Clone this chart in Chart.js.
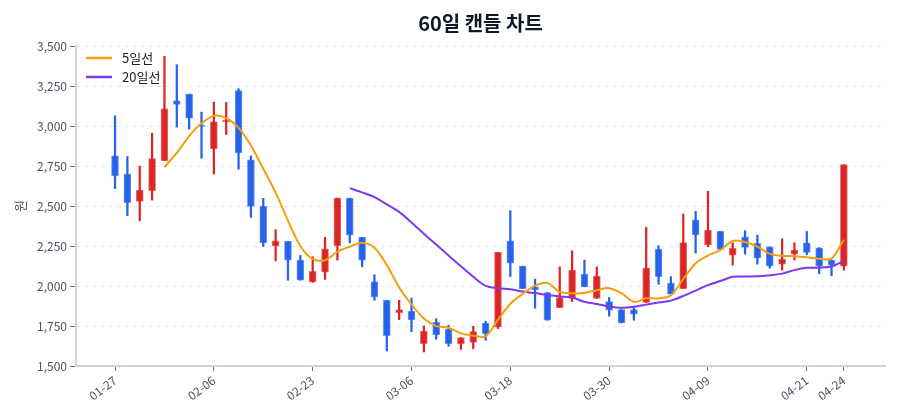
<!DOCTYPE html>
<html>
<head>
<meta charset="utf-8">
<script src="https://cdn.jsdelivr.net/npm/chart.js@4.4.1/dist/chart.umd.min.js"></script>
<style>
  html, body { margin: 0; padding: 0; background: #ffffff; }
  #wrap { width: 900px; height: 420px; position: relative; }
</style>
</head>
<body>
<div id="wrap"><canvas id="c" width="900" height="420"></canvas></div>
<script>
// ---- data ----
const chartTitle = '60일 캔들 차트';
const dates = ["01-27","01-28","01-29","01-30","01-31","02-03","02-04","02-05","02-06","02-09",
  "02-10","02-12","02-13","02-16","02-17","02-20","02-23","02-24","02-25","02-26",
  "02-27","03-02","03-03","03-05","03-06","03-09","03-10","03-11","03-12","03-13",
  "03-16","03-17","03-18","03-19","03-20","03-23","03-24","03-25","03-26","03-27",
  "03-30","03-31","04-01","04-02","04-03","04-06","04-07","04-08","04-09","04-10",
  "04-13","04-14","04-15","04-16","04-17","04-20","04-21","04-22","04-23","04-24"];
const opens  = [2813,2700,2529,2596,2784,3158,3199,3005,2857,3025,3222,2788,2498,2251,2279,2162,2026,2087,2252,2550,
                2304,2028,1911,1834,1842,1640,1773,1730,1640,1648,1769,1744,2283,2124,1995,1959,1865,1922,2074,1922,
                1903,1853,1853,1897,2231,2018,1984,2414,2256,2341,2193,2308,2266,2245,2137,2199,2270,2239,2162,2124];
const highs  = [3064,2809,2750,2955,3435,3383,3199,3087,3149,3147,3233,2813,2548,2352,2279,2191,2183,2304,2550,2550,
                2304,2070,1911,1911,1924,1750,1796,1755,1677,1748,1780,2210,2471,2124,2043,1959,2120,2220,2162,2120,
                1928,1853,1865,2366,2252,2059,2450,2467,2592,2341,2270,2346,2318,2245,2295,2270,2341,2239,2162,2759];
const lows   = [2609,2439,2408,2537,2784,2993,2980,2798,2700,2947,2730,2429,2247,2157,2036,2036,2022,2041,2162,2270,
                2120,1911,1594,1790,1715,1588,1667,1623,1604,1608,1661,1734,2059,1984,1861,1786,1865,1903,1995,1922,
                1811,1769,1786,1897,2011,1949,1984,2206,2245,2229,2130,2199,2137,2112,2099,2162,2195,2078,2064,2099];
const closes = [2688,2521,2600,2796,3107,3135,3049,2998,3028,3035,2832,2498,2270,2283,2162,2036,2091,2233,2550,2318,
                2162,1932,1690,1853,1790,1719,1694,1640,1677,1715,1702,2210,2143,1984,1975,1786,1928,2099,1995,2062,
                1849,1769,1824,2112,2059,1949,2272,2320,2350,2229,2237,2241,2174,2124,2168,2224,2210,2124,2130,2759];
const tickIndices = [0, 8, 16, 24, 32, 40, 48, 56, 59];
const yTicks = [1500, 1750, 2000, 2250, 2500, 2750, 3000, 3250, 3500];

// ---- derived tables for the library ----
const UP = '#dc2626', DOWN = '#2563eb';
const colorOf = i => closes[i] >= opens[i] ? UP : DOWN;
function movingAvg(n) {
  return closes.map((c, i) => {
    if (i < n - 1) return { x: i, y: null };
    let s = 0;
    for (let k = i - n + 1; k <= i; k++) s += closes[k];
    return { x: i, y: s / n };
  });
}
const bodies = closes.map((c, i) => ({ x: i, y: [opens[i], c] }));
const wicks = closes.map((c, i) => ({ x: i, y: [lows[i], highs[i]] }));
const FONT = "'Noto Sans CJK KR', 'Noto Sans', sans-serif";

const decorations = {
  id: 'decorations',
  afterDraw(chart) {
    const ctx = chart.ctx, a = chart.chartArea;
    ctx.save();
    // title centred over the plot area
    ctx.fillStyle = '#111827';
    ctx.font = "bold 20px " + FONT;
    ctx.textAlign = 'center';
    ctx.textBaseline = 'middle';
    ctx.fillText(chartTitle, (a.left + a.right) / 2, 23);
    // legend inside the plot area
    const items = chart.data.datasets.filter(d => d.type === 'line');
    items.forEach((d, k) => {
      const y = a.top + 12 + k * 19;
      ctx.strokeStyle = d.borderColor;
      ctx.lineWidth = 2.5;
      ctx.beginPath();
      ctx.moveTo(a.left + 10, y);
      ctx.lineTo(a.left + 36, y);
      ctx.stroke();
      ctx.fillStyle = '#222222';
      ctx.font = "13px " + FONT;
      ctx.textBaseline = 'middle';
      ctx.textAlign = 'left';
      ctx.fillText(d.label, a.left + 46, y);
    });
    ctx.restore();
  }
};

new Chart(document.getElementById('c'), {
  data: {
    datasets: [
      { type: 'line', label: '5일선', data: movingAvg(5), borderColor: '#f59e0b', borderWidth: 2,
        pointRadius: 0, tension: 0.3, order: 0 },
      { type: 'line', label: '20일선', data: movingAvg(20), borderColor: '#7c3aed', borderWidth: 2,
        pointRadius: 0, tension: 0.3, order: 0 },
      { type: 'bar', label: 'body', data: bodies, backgroundColor: closes.map((c, i) => colorOf(i)),
        borderColor: closes.map((c, i) => colorOf(i) + 'aa'), borderWidth: 1, borderSkipped: false,
        barThickness: 7, grouped: false, order: 1 },
      { type: 'bar', label: 'wick', data: wicks, backgroundColor: closes.map((c, i) => colorOf(i)),
        borderWidth: 0, barThickness: 1.6, grouped: false, order: 2 }
    ]
  },
  options: {
    responsive: false,
    animation: false,
    layout: { padding: { left: 0, right: 15, top: 46, bottom: 0 } },
    plugins: {
      legend: { display: false },
      tooltip: { enabled: false },
      title: { display: false }
    },
    scales: {
      x: {
        type: 'linear', min: -3.16, max: 62.33, offset: false,
        afterBuildTicks: s => { s.ticks = tickIndices.map(v => ({ value: v })); },
        afterFit: s => { s.height = 54; },
        ticks: {
          callback: v => dates[v] || '', color: '#4b5563', autoSkip: false,
          minRotation: 37, maxRotation: 37, font: { family: FONT, size: 12 }, padding: 2
        },
        grid: { offset: false, drawOnChartArea: false, drawTicks: true, tickLength: 5, tickColor: '#6b7280', tickWidth: 1 },
        border: { color: '#d1d5db', width: 2 }
      },
      y: {
        min: 1500, max: 3500,
        afterBuildTicks: s => { s.ticks = yTicks.map(v => ({ value: v })); },
        afterFit: s => { s.width = 76; },
        ticks: {
          color: '#4b5563', font: { family: FONT, size: 12 }, padding: 3,
          callback: v => v.toLocaleString('en-US')
        },
        title: { display: true, text: '원', color: '#4b5563', font: { family: FONT, size: 13 }, padding: { top: 12, bottom: 0 } },
        grid: { color: '#e5e7eb', lineWidth: 1, tickLength: 6, tickColor: '#6b7280', tickWidth: 1, tickBorderDash: [] },
        border: { color: '#d1d5db', width: 2, dash: [4, 4] }
      }
    }
  },
  plugins: [decorations]
});
</script>
</body>
</html>
